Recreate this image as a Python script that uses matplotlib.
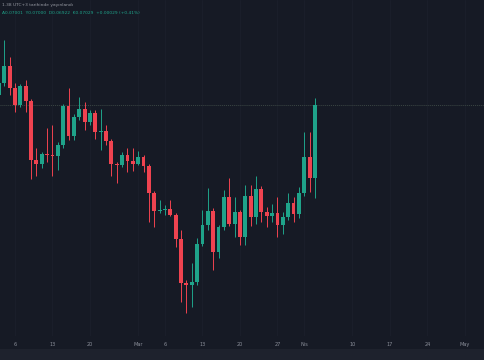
import matplotlib
matplotlib.use('Agg')
import matplotlib.pyplot as plt
import matplotlib.dates as mdates
import pandas as pd
from matplotlib.patches import Rectangle

# daily candles, Feb 3 .. Apr 3 (price index)
dates = pd.date_range('2023-02-03', '2023-04-03', freq='D')
opens  = [305, 317, 334, 312, 295, 314, 299, 240, 236, 246, 245, 244, 255, 294, 264, 283,
          291, 278, 287, 268, 269, 259, 236, 235, 245, 239, 236, 243, 234, 207, 189, 190,
          191, 185, 161, 117, 115, 118, 156, 175, 189, 148, 173, 203, 176, 188, 163, 204,
          183, 211, 188, 184, 187, 175, 183, 197, 186, 207, 243, 222]
highs  = [320, 360, 343, 317, 316, 320, 301, 252, 248, 272, 275, 258, 296, 312, 286, 303,
          298, 290, 290, 291, 275, 261, 238, 248, 252, 252, 249, 245, 236, 209, 200, 195,
          200, 187, 170, 120, 137, 162, 190, 212, 192, 175, 210, 222, 203, 190, 215, 215,
          224, 214, 193, 196, 203, 188, 207, 203, 213, 268, 268, 302]
lows   = [300, 314, 305, 288, 293, 288, 221, 224, 232, 238, 224, 230, 252, 260, 260, 280,
          270, 275, 261, 250, 255, 224, 217, 233, 228, 229, 235, 228, 178, 173, 187, 185,
          184, 153, 98, 87, 93, 115, 154, 170, 130, 142, 170, 174, 163, 155, 155, 174,
          176, 178, 173, 178, 163, 166, 180, 178, 182, 204, 208, 202]
closes = [317, 334, 312, 295, 314, 299, 240, 236, 246, 245, 244, 255, 294, 264, 283, 291,
          278, 287, 268, 269, 259, 236, 235, 245, 239, 236, 243, 234, 207, 189, 190, 191,
          185, 161, 117, 115, 118, 156, 175, 189, 148, 173, 203, 176, 188, 163, 204, 183,
          211, 188, 184, 187, 175, 183, 197, 186, 207, 243, 222, 295]

tick_dates = ['2023-02-06', '2023-02-13', '2023-02-20', '2023-03-01', '2023-03-06',
              '2023-03-13', '2023-03-20', '2023-03-27', '2023-04-01', '2023-04-10',
              '2023-04-17', '2023-04-24', '2023-05-01']
tick_labels = ['6', '13', '20', 'Mar', '6', '13', '20', '27', 'Nis', '10', '17', '24', 'May']

header = '1.38 UTC+3 tarihinde yayınlandı'
ohlc_text = 'A0.07001  Y0.07000  D0.06922  K0.07029  +0.00029 (+0.41%)'

BG = '#161a25'
UP = '#1fa38a'
DOWN = '#ef4350'
TXT = '#8a8e99'

fig = plt.figure(figsize=(4.85, 3.6), dpi=100, facecolor=BG)
ax = fig.add_axes([0, 24 / 360, 1, 336 / 360])
ax.set_facecolor(BG)

x = mdates.date2num(dates)
w = 0.72
for xi, o, h, l, c in zip(x, opens, highs, lows, closes):
    col = UP if c >= o else DOWN
    ax.vlines(xi, l, h, color=col, lw=0.7, zorder=2)
    lo, hi = min(o, c), max(o, c)
    ax.add_patch(Rectangle((xi - w / 2, lo), w, max(hi - lo, 0.8),
                           facecolor=col, edgecolor='none', zorder=3))

# last price line
ax.axhline(closes[-1], color='#3b4644', lw=0.7, ls=(0, (1, 1)), zorder=1)

x0 = mdates.date2num(pd.Timestamp('2023-02-06'))
day_px = 5.357
ax.set_xlim(x0 - 15 / day_px, x0 + (485 - 15) / day_px)
ax.set_ylim(64, 400)

tx = mdates.date2num(pd.to_datetime(tick_dates))
ax.set_xticks(tx)
ax.set_xticklabels(tick_labels, fontsize=3.6, color=TXT)
for xv in tx:
    ax.axvline(xv, color='#1b1f2b', lw=0.6, zorder=0)
ax.set_yticks([])
ax.tick_params(axis='x', length=0, pad=4)
for s in ax.spines.values():
    s.set_visible(False)

# bottom strip
fig.patches.append(Rectangle((0, 0), 1, 11 / 360, transform=fig.transFigure,
                             facecolor='#1e222d', edgecolor='none', zorder=0))

fig.text(2 / 485, 1 - 5 / 360, header, fontsize=3.2, color='#9598a1', va='center', ha='left')
fig.text(2 / 485, 1 - 13 / 360, ohlc_text, fontsize=3.2, color='#1fa38a', va='center', ha='left')

fig.savefig('out.png', dpi=100, facecolor=BG)
